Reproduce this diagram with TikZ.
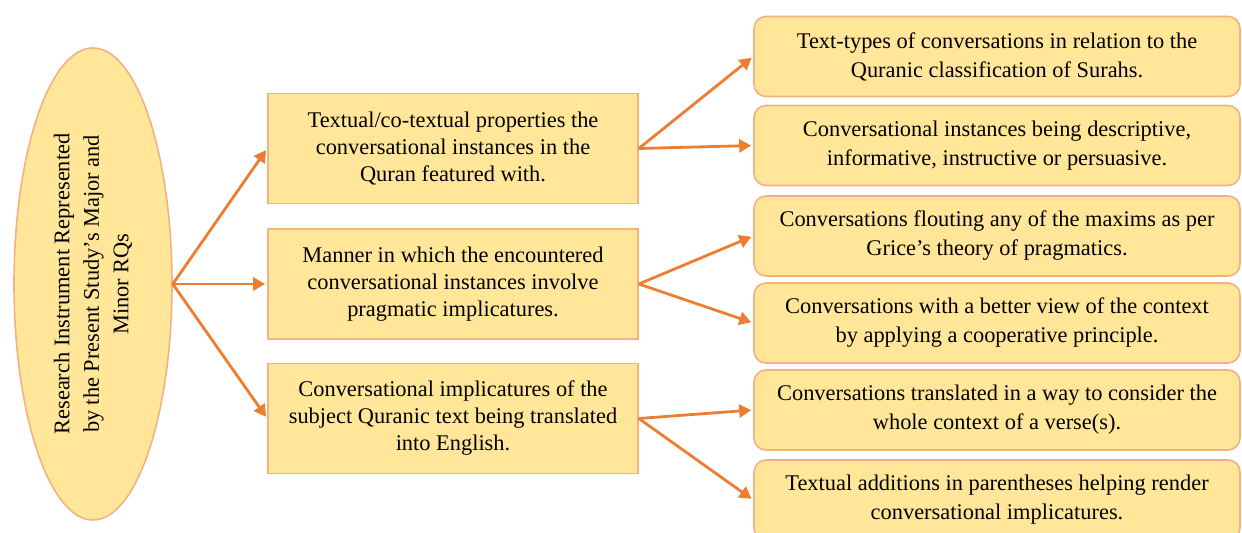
\documentclass[tikz,border=0pt]{standalone}
\usepackage{fontspec}
\setmainfont{Liberation Serif}
\usetikzlibrary{shapes.geometric,arrows.meta}
\definecolor{boxfill}{HTML}{FFE699}
\definecolor{boxline}{HTML}{F4B183}
\definecolor{arrowc}{HTML}{ED7D31}
\begin{document}
\begin{tikzpicture}[x=0.5pt,y=0.5pt,
    oval/.style={ellipse, draw=boxline, fill=boxfill, line width=0.8pt, minimum width=236pt, minimum height=79pt, inner sep=0pt, align=center, font=\fontsize{11.2}{14.75}\selectfont, rotate=90},
    midbox/.style={rectangle, draw=boxline, fill=boxfill, line width=0.8pt, minimum width=185pt, minimum height=55pt, align=center, font=\fontsize{11.2}{13.5}\selectfont},
    leafbox/.style={rectangle, rounded corners=6pt, draw=boxline, fill=boxfill, line width=0.8pt, minimum width=243pt, minimum height=40pt, align=center, font=\fontsize{11.2}{14.5}\selectfont},
    arr/.style={-{Triangle[length=6pt,width=6.5pt]}, draw=arrowc, line width=1.4pt, shorten >=1pt}]
  \useasboundingbox (0,0) rectangle (1242,533);
  % left oval
  \node[oval] (rq) at (93,249) {Research Instrument Represented\\by the Present Study's Major and\\Minor RQs};
  % middle column
  \node[midbox] (m1) at (453,384.5) {Textual/co-textual properties the\\conversational instances in the\\Quran featured with.};
  \node[midbox] (m2) at (453,249) {Manner in which the encountered\\conversational instances involve\\pragmatic implicatures.};
  \node[midbox] (m3) at (453,114.5) {Conversational implicatures of the\\subject Quranic text being translated\\into English.};
  % right column
  \node[leafbox] (r1) at (997,476.5) {Text-types of conversations in relation to the\\Quranic classification of Surahs.};
  \node[leafbox] (r2) at (997,387.5) {Conversational instances being descriptive,\\informative, instructive or persuasive.};
  \node[leafbox] (r3) at (997,297) {Conversations flouting any of the maxims as per\\Grice's theory of pragmatics.};
  \node[leafbox] (r4) at (997,210) {Conversations with a better view of the context\\by applying a cooperative principle.};
  \node[leafbox] (r5) at (997,123) {Conversations translated in a way to consider the\\whole context of a verse(s).};
  \node[leafbox] (r6) at (997,33) {Textual additions in parentheses helping render\\conversational implicatures.};
  % arrows
  \draw[arr] (rq.south) -- (m1.west);
  \draw[arr] (rq.south) -- (m2.west);
  \draw[arr] (rq.south) -- (m3.west);
  \draw[arr] (m1.east) -- (r1.west);
  \draw[arr] (m1.east) -- (r2.west);
  \draw[arr] (m2.east) -- (r3.west);
  \draw[arr] (m2.east) -- (r4.west);
  \draw[arr] (m3.east) -- (r5.west);
  \draw[arr] (m3.east) -- (r6.west);
\end{tikzpicture}
\end{document}
